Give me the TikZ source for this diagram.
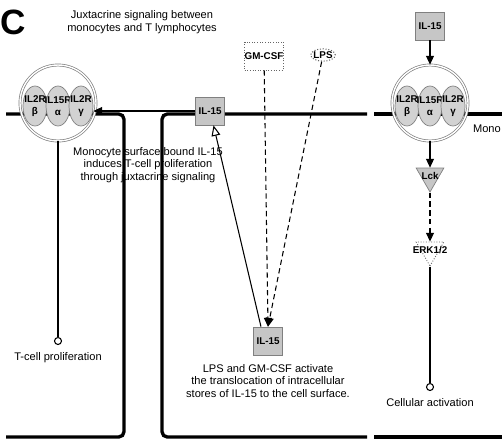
\documentclass[tikz,border=0pt]{standalone}
\usepackage{fontspec}
\setmainfont{Liberation Sans}
\usepackage{tikz}
\usetikzlibrary{arrows.meta,positioning,shapes}
\newcommand{\fnota}{\fontsize{6.3}{7}\selectfont}
\newcommand{\fetiq}{\fontsize{5.6}{6.6}\selectfont\bfseries}
\tikzstyle{membrana}=[line width=1.9pt, rounded corners=3pt]
\tikzstyle{flecha}=[line width=0.6pt, >={Triangle[length=5pt,width=4.5pt]}]

\begin{document}
\begin{tikzpicture}[x=0.02cm,y=-0.02cm,
    caja/.style={rectangle,draw=gray,fill=gray!45,minimum width=0.58cm,minimum height=0.56cm,inner sep=0,font=\fetiq},
    hueca/.style={rectangle,draw=gray!80!black,densely dotted,line width=0.5pt,minimum width=0.66cm,minimum height=0.56cm,inner sep=0,font=\fetiq},
    ovalo/.style={ellipse,draw=gray!80!black,densely dotted,line width=0.6pt,inner xsep=-0.5pt,inner ysep=0.5pt,font=\fetiq},
    subunidad/.style={ellipse,draw=gray,fill=gray!35,minimum width=0.48cm,minimum height=0.8cm,inner sep=0},
    receptor/.style={circle,draw=gray,double,double distance=0.8pt,minimum size=1.52cm,inner sep=0},
    cinasa/.style={regular polygon,regular polygon sides=3,shape border rotate=180,minimum size=0.64cm,inner sep=0,draw=gray,fill=gray!45},
    fin/.style={circle,draw,line width=0.6pt,minimum size=0.14cm,inner sep=0},
    nota/.style={align=center,font=\fnota,inner sep=1pt}]
  \useasboundingbox (0,0) rectangle (502,440);
  \clip (0,0) rectangle (502,440);

  % membranas
  \draw[membrana] (6,114) -- (124,114) -- (124,437) -- (6,437);
  \draw[membrana] (367,114) -- (162,114) -- (162,437) -- (367,437);
  \draw[membrana] (374,114) -- (505,114);
  \draw[membrana] (374,437) -- (505,437);

  \node[anchor=west,inner sep=0,font=\fontsize{20}{20}\selectfont\bfseries] (panel) at (0,22) {C};
  \node[nota] (titulo) at (142,22) {Juxtacrine signaling between\\monocytes and T lymphocytes};

  % receptores IL-15
  \foreach \lado/\cx in {l/58, r/430} {
    \foreach \sub/\dx/\nom/\gr in {bet/-23/IL2R/β, alf/0/IL15R/α, gam/23/IL2R/γ} {
      \node[subunidad] (\lado\sub) at (\cx+\dx,106) {};
      \node[align=center,inner sep=0,font=\fetiq] at (\lado\sub) {\nom\\\gr};
    }
    \node[receptor] (\lado rec) at (\cx,103) {};
  }

  \node[caja] (il15m) at (210,111) {IL-15};
  \node[hueca] (gm) at (264,56) {GM-CSF};
  \node[ovalo] (lps) at (323,55) {LPS};
  \node[caja] (il15b) at (268,341) {IL-15};
  \node[caja] (il15r) at (430,26) {IL-15};
  \node[cinasa,label={[font=\fetiq]center:Lck}] (lck) at (430,176) {};
  \node[cinasa,fill=white,draw=gray!80!black,densely dotted,line width=0.5pt,label={[font=\fetiq]center:ERK1/2}] (erk) at (430,250) {};
  \node[fin] (tcel) at (58,341) {};
  \node[fin] (cel) at (430,387) {};

  \node[nota,below=3pt of tcel] (nota3) {T-cell proliferation};
  \node[nota,below=3pt of cel] (nota4) {Cellular activation};
  \node[nota] (nota1) at (148,165) {Monocyte surface bound IL-15\\induces T-cell proliferation\\through juxtacrine signaling};
  \node[nota,below=4pt of il15b] (nota2) {LPS and GM-CSF activate\\the translocation of intracellular\\stores of IL-15 to the cell surface.};
  \node[nota,anchor=west] (mono) at (471,129) {Mono};

  \draw[flecha,->] (il15m.west) -- (il15m.west -| lgam.east);
  \draw[flecha] (lrec) -- (tcel);
  \draw[flecha,->,dash pattern=on 3pt off 2pt] (gm) -- (il15b.north);
  \draw[flecha,->,dash pattern=on 3pt off 2pt] (lps) -- (il15b.north);
  \draw[flecha,-{Triangle[open,length=6pt,width=5pt]}] ([xshift=-4pt]il15b.north) -- ([xshift=2pt]il15m.south);
  \draw[flecha,->] (il15r) -- (rrec);
  \draw[flecha,->] (rrec) -- (lck);
  \draw[flecha,->,dash pattern=on 3pt off 2pt] (lck) -- (erk);
  \draw[flecha] (erk) -- (cel);
\end{tikzpicture}
\end{document}
